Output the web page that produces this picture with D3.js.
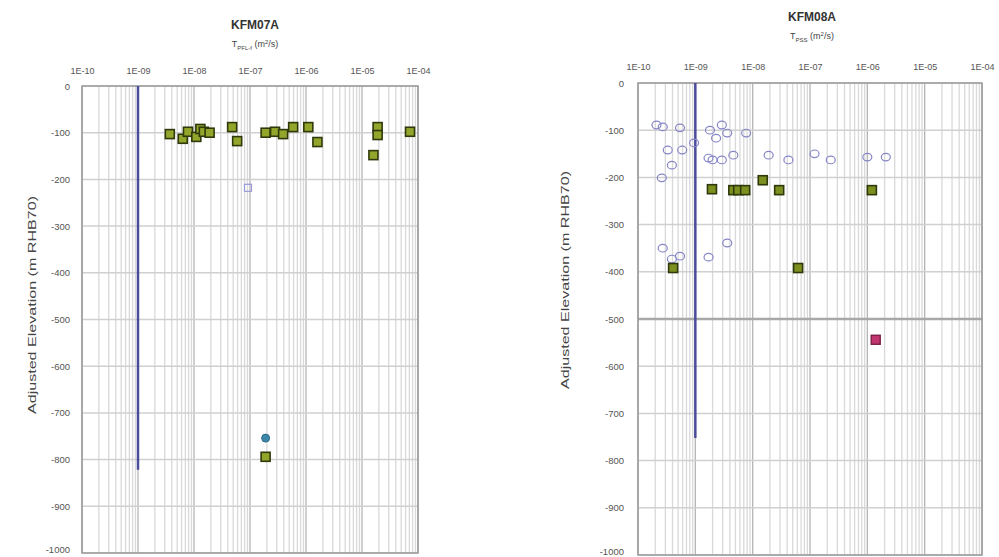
<!DOCTYPE html>
<html>
<head>
<meta charset="utf-8">
<script src="https://cdn.jsdelivr.net/npm/d3@7"></script>
<style>
  body { margin: 0; background: #fff; }
  svg { display: block; font-family: Arial, "Liberation Sans", sans-serif; }
</style>
</head>
<body>
<svg id="chart" width="999" height="557"></svg>
<script>
// ---------- DATA ----------
const xTickLabels = ["1E-10", "1E-09", "1E-08", "1E-07", "1E-06", "1E-05", "1E-04"];
const yTickValues = [0, -100, -200, -300, -400, -500, -600, -700, -800, -900, -1000];

// KFM07A
const kfm07aSquareT    = [3.7e-9, 6.3e-9, 7.8e-9, 1.1e-8, 1.3e-8, 1.5e-8, 1.9e-8, 4.8e-8, 5.9e-8, 1.9e-7, 2.8e-7, 3.9e-7, 5.9e-7, 1.1e-6, 1.6e-6, 1.6e-5, 1.9e-5, 1.9e-5, 7.2e-5, 1.9e-7];
const kfm07aSquareElev = [-103, -113, -98, -109, -92, -98, -100, -88, -118, -100, -98, -103, -88, -88, -120, -148, -88, -105, -98, -794];
const kfm07aOpenSqT    = [9.2e-8];
const kfm07aOpenSqElev = [-218];
const kfm07aDotT       = [1.9e-7];
const kfm07aDotElev    = [-754];
const kfm07aLimitT     = 1e-9;
const kfm07aLimitElev  = [0, -822];

// KFM08A
const kfm08aCircleT    = [2.1e-10, 2.7e-10, 5.4e-10, 9.5e-10, 3.3e-10, 5.9e-10, 3.9e-10, 2.6e-10, 1.8e-9, 2.3e-9, 2.9e-9, 3.6e-9, 7.7e-9, 1.7e-9, 2.0e-9, 2.9e-9, 4.6e-9, 1.9e-8, 4.2e-8, 1.2e-7, 2.3e-7, 1.0e-6, 2.1e-6, 2.7e-10, 3.9e-10, 5.4e-10, 1.7e-9, 3.6e-9];
const kfm08aCircleElev = [-89, -93, -95, -127, -142, -142, -174, -201, -100, -117, -89, -106, -106, -159, -163, -163, -153, -153, -163, -150, -163, -157, -157, -350, -373, -367, -369, -339];
const kfm08aSquareT    = [4.1e-10, 1.95e-9, 4.6e-9, 5.6e-9, 7.4e-9, 1.5e-8, 2.9e-8, 6.2e-8, 1.2e-6];
const kfm08aSquareElev = [-392, -225, -227, -227, -227, -206, -227, -392, -227];
const kfm08aPinkT      = [1.4e-6];
const kfm08aPinkElev   = [-544];
const kfm08aLimitT     = 1e-9;
const kfm08aLimitElev  = [0, -752];

// ---------- DRAW ----------
const svg = d3.select("#chart");

function drawPanel(cfg) {
  const g = svg.append("g");
  const x = d3.scaleLog().domain([1e-10, 1e-4]).range([cfg.left, cfg.right]);
  const y = d3.scaleLinear().domain([0, -1000]).range([cfg.top, cfg.bottom]);

  // minor log gridlines
  const minor = [];
  for (let e = -10; e < -4; e++) {
    for (let m = 2; m <= 9; m++) minor.push(m * Math.pow(10, e));
  }
  g.append("g").selectAll("line").data(minor).join("line")
    .attr("x1", d => x(d)).attr("x2", d => x(d))
    .attr("y1", cfg.top).attr("y2", cfg.bottom)
    .attr("stroke", "#d9d9d9").attr("stroke-width", 1.3);

  // major vertical gridlines
  const major = d3.range(-10, -3).map(e => Math.pow(10, e));
  g.append("g").selectAll("line").data(major).join("line")
    .attr("x1", d => x(d)).attr("x2", d => x(d))
    .attr("y1", cfg.top).attr("y2", cfg.bottom)
    .attr("stroke", "#b5b5b5").attr("stroke-width", 1.3);

  // horizontal gridlines
  g.append("g").selectAll("line").data(yTickValues).join("line")
    .attr("x1", cfg.left).attr("x2", cfg.right)
    .attr("y1", d => y(d)).attr("y2", d => y(d))
    .attr("stroke", d => (cfg.boldElev === d ? "#a8a8a8" : "#d0d0d0"))
    .attr("stroke-width", d => (cfg.boldElev === d ? 2.5 : 1.5));

  // frame
  g.append("rect")
    .attr("x", cfg.left).attr("y", cfg.top)
    .attr("width", cfg.right - cfg.left).attr("height", cfg.bottom - cfg.top)
    .attr("fill", "none").attr("stroke", "#9a9a9a").attr("stroke-width", 1.5);

  // top axis labels
  const xAxis = d3.axisTop(x).tickValues(major)
    .tickFormat((d, i) => xTickLabels[i]).tickSize(0).tickPadding(cfg.xLabelPad);
  const xa = g.append("g").attr("transform", `translate(0,${cfg.top})`).call(xAxis);
  xa.select(".domain").remove();
  xa.selectAll("text").attr("font-size", 9).attr("fill", "#555");

  // left axis labels
  const yAxis = d3.axisLeft(y).tickValues(yTickValues)
    .tickFormat(d => String(d)).tickSize(0).tickPadding(cfg.yLabelPad);
  const ya = g.append("g").attr("transform", `translate(${cfg.left},0)`).call(yAxis);
  ya.select(".domain").remove();
  ya.selectAll("text").attr("font-size", 9.5).attr("fill", "#555")
    .attr("dy", d => (d === -1000 ? "-0.1em" : "0.32em"));

  // titles
  g.append("text").attr("x", cfg.titleX).attr("y", cfg.titleY)
    .attr("text-anchor", "middle").attr("font-size", 12).attr("font-weight", "bold")
    .attr("fill", "#333").text(cfg.title);
  const st = g.append("text").attr("x", cfg.titleX).attr("y", cfg.titleY + 18)
    .attr("text-anchor", "middle").attr("font-size", 9).attr("fill", "#444");
  st.append("tspan").text("T");
  st.append("tspan").attr("dy", 3).attr("font-size", 6).text(cfg.sub);
  st.append("tspan").attr("dy", -3).text(" (m");
  st.append("tspan").attr("dy", -3).attr("font-size", 6).text("2");
  st.append("tspan").attr("dy", 3).text("/s)");

  // y-axis title
  g.append("text")
    .attr("transform", `translate(${cfg.yTitleX},${cfg.yTitleY}) rotate(-90)`)
    .attr("text-anchor", "middle").attr("font-size", 11.5).attr("fill", "#444")
    .attr("textLength", 218).attr("lengthAdjust", "spacingAndGlyphs")
    .text("Adjusted Elevation (m RHB70)");

  // measurement limit line
  g.append("line")
    .attr("x1", x(cfg.limitT)).attr("x2", x(cfg.limitT))
    .attr("y1", y(cfg.limitElev[0])).attr("y2", y(cfg.limitElev[1]))
    .attr("stroke", "#4b4b9c").attr("stroke-width", 2.5);

  const marks = g.append("g");
  cfg.series.forEach(s => {
    const pts = s.t.map((t, i) => ({ t, e: s.e[i] }));
    if (s.type === "square") {
      marks.append("g").selectAll("rect").data(pts).join("rect")
        .attr("x", d => x(d.t) - s.size / 2).attr("y", d => y(d.e) - s.size / 2)
        .attr("width", s.size).attr("height", s.size)
        .attr("fill", s.fill).attr("stroke", s.stroke).attr("stroke-width", s.sw);
    } else {
      marks.append("g").selectAll("ellipse").data(pts).join("ellipse")
        .attr("cx", d => x(d.t)).attr("cy", d => y(d.e))
        .attr("rx", s.rx).attr("ry", s.ry)
        .attr("fill", s.fill).attr("stroke", s.stroke).attr("stroke-width", s.sw);
    }
  });
}

drawPanel({
  left: 82, right: 418, top: 86, bottom: 553,
  title: "KFM07A", sub: "PFL-f", titleX: 255, titleY: 29,
  xLabelPad: 12, yLabelPad: 12,
  yTitleX: 36, yTitleY: 305,
  limitT: kfm07aLimitT, limitElev: kfm07aLimitElev,
  boldElev: null,
  series: [
    { type: "square", t: kfm07aOpenSqT, e: kfm07aOpenSqElev, size: 7, fill: "none", stroke: "#9a9ad8", sw: 1.2 },
    { type: "circle", t: kfm07aDotT, e: kfm07aDotElev, rx: 4, ry: 4, fill: "#3d86a8", stroke: "#2e6a88", sw: 1 },
    { type: "square", t: kfm07aSquareT, e: kfm07aSquareElev, size: 9, fill: "#93a52a", stroke: "#2f3a0c", sw: 1.6 }
  ]
});

drawPanel({
  left: 638, right: 982, top: 83, bottom: 555,
  title: "KFM08A", sub: "PSS", titleX: 812, titleY: 21,
  xLabelPad: 13, yLabelPad: 14,
  yTitleX: 569, yTitleY: 280,
  limitT: kfm08aLimitT, limitElev: kfm08aLimitElev,
  boldElev: -500,
  series: [
    { type: "circle", t: kfm08aCircleT, e: kfm08aCircleElev, rx: 4.5, ry: 3.8, fill: "none", stroke: "#8585c8", sw: 1.2 },
    { type: "square", t: kfm08aSquareT, e: kfm08aSquareElev, size: 9, fill: "#7d8f1e", stroke: "#2f3a0c", sw: 1.6 },
    { type: "square", t: kfm08aPinkT, e: kfm08aPinkElev, size: 9, fill: "#c2356f", stroke: "#7a2046", sw: 1.4 }
  ]
});
</script>
</body>
</html>
